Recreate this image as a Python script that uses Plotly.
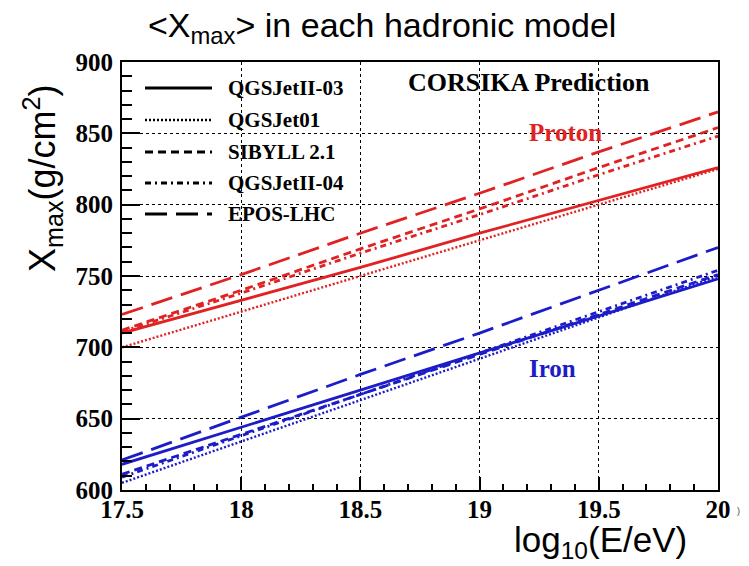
import plotly.graph_objects as go

# log10(E/eV) sampling points
log_e = [17.5, 18.0, 18.5, 19.0, 19.5, 20.0]

# <Xmax> (g/cm^2) for protons, per hadronic model
p_qgsjetii03 = [710, 733, 756, 780, 803, 826]
p_qgsjet01 = [700, 725, 750, 775, 800, 825]
p_sibyll21 = [712, 740, 769, 797, 826, 854]
p_qgsjetii04 = [711, 738, 766, 793, 821, 848]
p_eposlhc = [723, 751, 780, 808, 837, 865]

# <Xmax> (g/cm^2) for iron, per hadronic model
fe_qgsjetii03 = [618, 644, 670, 696, 722, 748]
fe_qgsjet01 = [605, 634, 663, 692, 721, 750]
fe_sibyll21 = [611, 639, 667, 695, 723, 751]
fe_qgsjetii04 = [609, 638, 667, 696, 725, 754]
fe_eposlhc = [621, 651, 681, 710, 740, 770]

model_names = ["QGSJetII-03", "QGSJet01", "SIBYLL 2.1", "QGSJetII-04", "EPOS-LHC"]
dash_styles = ["solid", "2px,2px", "8px,5px", "6px,4px,2px,4px", "22px,9px"]
line_widths = [2.8, 2.4, 2.8, 2.8, 2.8]

x_ticks = [17.5, 18, 18.5, 19, 19.5, 20]
y_ticks = [600, 650, 700, 750, 800, 850, 900]

RED = "#e02222"
BLUE = "#1c1cc8"

proton = [p_qgsjetii03, p_qgsjet01, p_sibyll21, p_qgsjetii04, p_eposlhc]
iron = [fe_qgsjetii03, fe_qgsjet01, fe_sibyll21, fe_qgsjetii04, fe_eposlhc]

fig = go.Figure()
for name, dash, lw, yp, yf in zip(model_names, dash_styles, line_widths, proton, iron):
    fig.add_trace(go.Scatter(x=log_e, y=yp, mode="lines", name=name + " (proton)",
                             line=dict(color=RED, width=lw, dash=dash), showlegend=False))
    fig.add_trace(go.Scatter(x=log_e, y=yf, mode="lines", name=name + " (iron)",
                             line=dict(color=BLUE, width=lw, dash=dash), showlegend=False))

W, H = 749, 566
ml, mr, mt, mb = 122, 31, 62, 76
pw, ph = W - ml - mr, H - mt - mb


def px_x(px):
    return (px - ml) / pw


def px_y(py):
    return 1 - (py - mt) / ph


serif = "Liberation Serif"
sans = "Liberation Sans"


def label(x, y, text, size, color="black", family=serif, bold=True, **kw):
    font = dict(family=family, size=size, color=color)
    if bold:
        font["weight"] = "bold"
    return dict(xref="paper", yref="paper", x=px_x(x), y=px_y(y), text=text,
                showarrow=False, xanchor=kw.pop("xanchor", "center"),
                yanchor="middle", font=font, **kw)


# hand-built legend: line sample + bold label per model
shapes = []
annotations = []
legend_rows = [88, 120, 152, 183, 214]
for name, dash, lw, row in zip(model_names, dash_styles, line_widths, legend_rows):
    shapes.append(dict(type="line", xref="paper", yref="paper",
                       x0=px_x(145), x1=px_x(212), y0=px_y(row), y1=px_y(row),
                       line=dict(color="black", width=lw, dash=dash)))
    annotations.append(label(226, row, name, 21, xanchor="left"))

annotations += [
    label(529, 82, "CORSIKA Prediction", 26),
    label(565, 132, "Proton", 25, color=RED),
    label(552, 368, "Iron", 25, color=BLUE),
    label(382, 28, "&lt;X<sub>max</sub>&gt; in each hadronic model", 34,
          family=sans, bold=False),
    label(43, 178, "X<sub>max</sub>(g/cm<sup>2</sup>)", 36, family=sans, bold=False,
          textangle=-90),
    label(600, 542, "log<sub>10</sub>(E/eV)", 35, family=sans, bold=False),
    label(738, 511, ")", 9, color="#444", family=sans, bold=False),
]

fig.update_layout(
    width=W, height=H,
    margin=dict(l=ml, r=mr, t=mt, b=mb),
    paper_bgcolor="white", plot_bgcolor="white",
    showlegend=False,
    shapes=shapes, annotations=annotations,
    xaxis=dict(range=[17.5, 20], tickvals=x_ticks, ticktext=[str(v) for v in x_ticks],
               showline=True, linecolor="black", linewidth=2, mirror=True,
               ticks="inside", ticklen=13, tickwidth=1.5, tickcolor="black",
               minor=dict(dtick=0.1, ticks="inside", ticklen=6, tickwidth=1.5,
                          tickcolor="black", showgrid=False),
               showgrid=True, gridcolor="black", griddash="dot", gridwidth=1,
               zeroline=False, ticklabelstandoff=-4, automargin=False,
               tickfont=dict(family=serif, size=25, color="black", weight="bold")),
    yaxis=dict(range=[600, 900], tickvals=y_ticks, ticktext=[str(v) for v in y_ticks],
               showline=True, linecolor="black", linewidth=2, mirror=True,
               ticks="inside", ticklen=18, tickwidth=1.5, tickcolor="black",
               minor=dict(dtick=10, ticks="inside", ticklen=10, tickwidth=1.5,
                          tickcolor="black", showgrid=False),
               showgrid=True, gridcolor="black", griddash="dot", gridwidth=1,
               zeroline=False, ticklabelstandoff=2, automargin=False,
               tickfont=dict(family=serif, size=25, color="black", weight="bold")),
)

fig.write_html("out.html")
